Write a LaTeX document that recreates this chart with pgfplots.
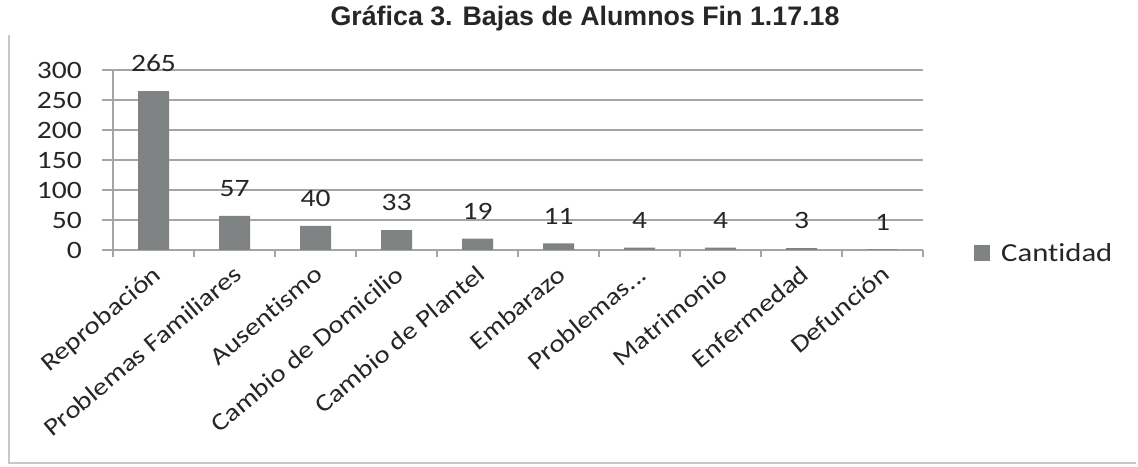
\documentclass[border=0pt]{standalone}
\usepackage{fontspec}
\setmainfont{Carlito}[FakeStretch=1.18, Ligatures=NoCommon]
\newfontfamily\titlefont{Liberation Sans}
\usepackage{pgfplots}
\pgfplotsset{compat=1.18}
\definecolor{barfill}{RGB}{127,131,131}
\definecolor{gridgray}{RGB}{165,165,165}
\definecolor{framegray}{RGB}{200,200,200}
\begin{document}
\begin{tikzpicture}[x=1pt,y=1pt]
  \path (0,0) rectangle (1138,466);
  \draw[framegray, line width=1.5pt] (9,431) -- (9,3) -- (1136,3);
  \node[font=\titlefont\bfseries\fontsize{26.8}{30}\selectfont, text=black!85] at (585,448) {Gráfica 3. Bajas de Alumnos Fin 1.17.18};
  \begin{axis}[
    at={(113pt,216pt)}, anchor=south west,
    scale only axis, width=810pt, height=180pt,
    ymin=0, ymax=300, ytick={0,50,...,300},
    xmin=-0.5, xmax=9.5,
    xtick={0,...,9},
    xticklabels={Reprobación, Problemas Familiares, Ausentismo, Cambio de Domicilio, Cambio de Plantel, Embarazo, {Problemas{.}{.}{.}}, Matrimonio, Enfermedad, Defunción},
    minor xtick={-0.5,0.5,...,9.5},
    axis lines*=left,
    axis line style={gridgray, line width=1.5pt},
    tick style={gridgray, line width=1.5pt},
    every major x tick/.append style={draw=none},
    tick align=outside,
    major tick length=11pt, minor tick length=7pt,
    ymajorgrids, grid style={gridgray, line width=1.5pt},
    /pgf/number format/assume math mode=true,
    tick label style={font=\fontsize{25}{28}\selectfont, text=black!85},
    yticklabel style={inner sep=0pt, xshift=-20pt},
    xticklabel style={font=\fontsize{24.5}{28}\selectfont, xshift=-2pt, yshift=-3pt, rotate=40, anchor=north east, inner sep=0pt},
    ybar, bar width=31pt,
    nodes near coords,
    every node near coord/.append style={font=\fontsize{25}{28}\selectfont, text=black!85, inner sep=0pt, yshift=19pt},
    legend style={at={(1.063,-0.017)}, anchor=west, draw=none, inner sep=0pt, font=\fontsize{26}{28}\selectfont, text=black!85},
    legend image code/.code={\fill[barfill] (0pt,-8pt) rectangle (16pt,8pt); \path (25pt,0pt);},
  ]
    \addplot[fill=barfill, draw=none] coordinates {(0,265) (1,57) (2,40) (3,33) (4,19) (5,11) (6,4) (7,4) (8,3) (9,1)};
    \addlegendentry{Cantidad}
  \end{axis}
\end{tikzpicture}
\end{document}
